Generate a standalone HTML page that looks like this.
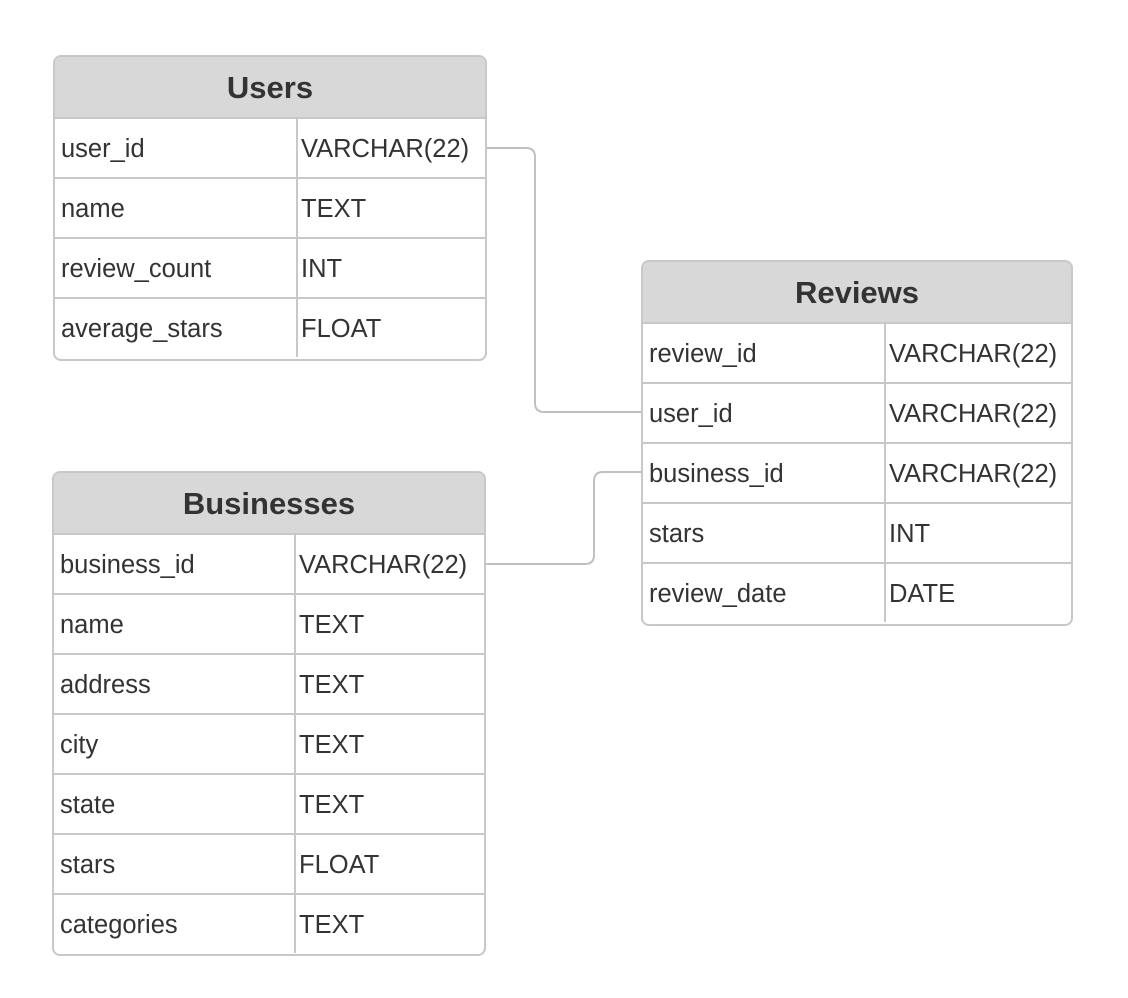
<!DOCTYPE html>
<html><head><meta charset="utf-8"><style>
body{margin:0;background:#fff;width:1128px;height:998px;overflow:hidden;position:relative;font-family:"Liberation Sans",Arial,sans-serif;color:#333}
.t{position:absolute;border:2px solid #c8c8c8;border-radius:8px;overflow:hidden;box-sizing:border-box;background:#fff}
.h{background:#d8d8d8;height:60px;line-height:62px;text-align:center;font-weight:bold;font-size:31px;box-sizing:border-box}
.r{display:flex;height:60px;line-height:60px;font-size:25.5px;border-top:2px solid #c8c8c8;box-sizing:border-box}
.r div{box-sizing:border-box;white-space:nowrap}
.r div:first-child{border-right:2px solid #c8c8c8;padding-left:6px}
.r div:last-child{padding-left:3px}
svg{position:absolute;left:0;top:0}
</style></head><body>
<svg width="1128" height="998"><g fill="none" stroke="#c0c0c0" stroke-width="2">
<path d="M486 148 H526 Q535 148 535 157 V403 Q535 412 544 412 H642"/>
<path d="M485 564 H585 Q594 564 594 555 V481 Q594 472 603 472 H642"/>
</g></svg>
<div class="t" style="left:53px;top:55px;width:434px;height:306px">
<div class="h">Users</div>
<div class="r"><div style="width:243px">user_id</div><div>VARCHAR(22)</div></div>
<div class="r"><div style="width:243px">name</div><div>TEXT</div></div>
<div class="r"><div style="width:243px">review_count</div><div>INT</div></div>
<div class="r"><div style="width:243px">average_stars</div><div>FLOAT</div></div>
</div>
<div class="t" style="left:52px;top:471px;width:434px;height:485px">
<div class="h">Businesses</div>
<div class="r"><div style="width:242px">business_id</div><div>VARCHAR(22)</div></div>
<div class="r"><div style="width:242px">name</div><div>TEXT</div></div>
<div class="r"><div style="width:242px">address</div><div>TEXT</div></div>
<div class="r"><div style="width:242px">city</div><div>TEXT</div></div>
<div class="r"><div style="width:242px">state</div><div>TEXT</div></div>
<div class="r"><div style="width:242px">stars</div><div>FLOAT</div></div>
<div class="r"><div style="width:242px">categories</div><div>TEXT</div></div>
</div>
<div class="t" style="left:641px;top:260px;width:432px;height:366px">
<div class="h">Reviews</div>
<div class="r"><div style="width:243px">review_id</div><div>VARCHAR(22)</div></div>
<div class="r"><div style="width:243px">user_id</div><div>VARCHAR(22)</div></div>
<div class="r"><div style="width:243px">business_id</div><div>VARCHAR(22)</div></div>
<div class="r"><div style="width:243px">stars</div><div>INT</div></div>
<div class="r"><div style="width:243px">review_date</div><div>DATE</div></div>
</div>
</body></html>
